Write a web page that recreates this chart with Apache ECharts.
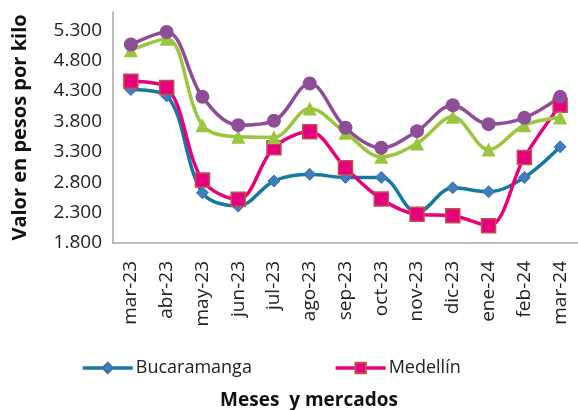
<!DOCTYPE html>
<html><head><meta charset="utf-8">
<script src="https://cdn.jsdelivr.net/npm/echarts@6/dist/echarts.min.js"></script>
<style>html,body{margin:0;padding:0;background:#fff}#c{width:578px;height:410px}</style>
</head><body><div id="c"></div>
<script>
const categories = ["mar-23","abr-23","may-23","jun-23","jul-23","ago-23","sep-23","oct-23","nov-23","dic-23","ene-24","feb-24","mar-24"];
const bucaramanga = [4325,4220,2627,2408,2819,2929,2879,2879,2300,2709,2643,2879,3382];
const medellin    = [4462,4358,2835,2518,3366,3629,3037,2523,2271,2249,2084,3208,4067];
const serie3      = [4971,5160,3739,3547,3540,4013,3613,3218,3438,3875,3339,3739,3865];
const serie4      = [5065,5272,4204,3739,3810,4424,3695,3366,3640,4067,3755,3859,4204];
const legendItems = ["Bucaramanga","Medellín"];

const FONT = "'Open Sans', 'Noto Sans', sans-serif";
const fmt = v => String(v).replace(/\B(?=(\d{3})+(?!\d))/g, ".");

const chart = echarts.init(document.getElementById('c'), null, {renderer:'canvas'});
chart.setOption({
  animation:false,
  textStyle:{fontFamily:FONT},
  grid:{left:113, top:12, width:471, height:231, containLabel:false},
  legend:{
    data:legendItems, left:76, top:354, itemGap:82, itemWidth:50, itemHeight:13,
    lineStyle:{width:3.5},
    textStyle:{fontFamily:FONT, fontSize:18, color:'#222', padding:[0,0,0,-2]}
  },
  title:{
    text:"Meses  y mercados", left:304, top:386, textAlign:'center',
    textStyle:{fontFamily:FONT, fontSize:19, fontWeight:'bold', color:'#111'}
  },
  xAxis:{
    type:'category', data:categories, boundaryGap:true,
    axisLine:{show:true, lineStyle:{color:'#a6a6a6', width:1.5}},
    axisTick:{show:false},
    axisLabel:{rotate:90, margin:18, fontSize:19, color:'#222', fontFamily:FONT, interval:0}
  },
  yAxis:{
    type:'value', min:1800, max:5600, interval:500,
    name:"Valor en pesos por kilo", nameLocation:'middle', nameRotate:90, nameGap:83,
    nameTextStyle:{fontFamily:FONT, fontSize:20, fontWeight:'bold', color:'#111'},
    axisLine:{show:true, lineStyle:{color:'#a6a6a6', width:1.5}},
    axisTick:{show:false},
    splitLine:{show:false},
    axisLabel:{showMaxLabel:false, fontSize:19, color:'#222', margin:11, fontFamily:FONT, formatter:fmt}
  },
  series:[
    {name:"Bucaramanga", type:'line', data:bucaramanga, smooth:0.35,
     symbol:'diamond', symbolSize:12,
     lineStyle:{color:'#167aa0', width:3.5},
     itemStyle:{color:'#3f7dbf', borderColor:'#3a6fb0', borderWidth:1}},
    {name:"Medellín", type:'line', data:medellin, smooth:0.35,
     symbol:'rect', symbolSize:14,
     lineStyle:{color:'#e6007e', width:3.5},
     itemStyle:{color:'#e6007e', borderColor:'#c0504d', borderWidth:1.5}},
    {name:"Serie 3", type:'line', data:serie3, smooth:0.35,
     symbol:'triangle', symbolSize:14,
     lineStyle:{color:'#9bc53d', width:3.5},
     itemStyle:{color:'#9bc53d'}},
    {name:"Serie 4", type:'line', data:serie4, smooth:0.35,
     symbol:'circle', symbolSize:14,
     lineStyle:{color:'#8d4e97', width:3.5},
     itemStyle:{color:'#8d4e97'}}
  ]
});
</script></body></html>
